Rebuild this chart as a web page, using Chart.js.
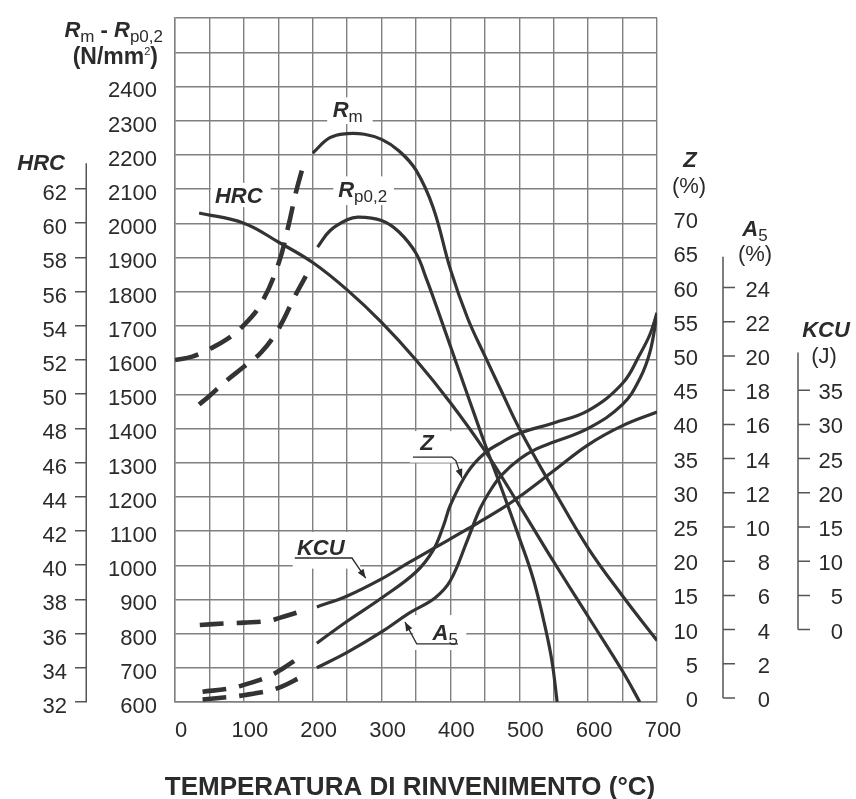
<!DOCTYPE html>
<html>
<head>
<meta charset="utf-8">
<script src="https://cdn.jsdelivr.net/npm/chart.js@4.4.1/dist/chart.umd.min.js"></script>
<style>
html,body{margin:0;padding:0;background:#ffffff;}
canvas{display:block;}
</style>
</head>
<body>
<canvas id="chart" width="856" height="799"></canvas>
<script>
// ---------------- data ----------------
const tempLabels = [0, 100, 200, 300, 400, 500, 600, 700];
const strengthLabels = [600, 700, 800, 900, 1000, 1100, 1200, 1300, 1400, 1500, 1600, 1700, 1800, 1900, 2000, 2100, 2200, 2300, 2400];
const hrcLabels = [32, 34, 36, 38, 40, 42, 44, 46, 48, 50, 52, 54, 56, 58, 60, 62];
const zLabels = [0, 5, 10, 15, 20, 25, 30, 35, 40, 45, 50, 55, 60, 65, 70];
const a5Labels = [0, 2, 4, 6, 8, 10, 12, 14, 16, 18, 20, 22, 24];
const kcuLabels = [0, 5, 10, 15, 20, 25, 30, 35];
const xTitle = 'TEMPERATURA DI RINVENIMENTO (°C)';

// Rm (N/mm2)
const rmDashedTemp = [0, 25, 50, 75, 100, 125, 150, 165, 175, 185];
const rmDashed     = [1600, 1610, 1632, 1660, 1702, 1765, 1880, 1995, 2085, 2160];
const rmTemp = [200, 225, 250, 275, 300, 325, 350, 375, 400, 425, 450, 475, 500, 550, 600, 650, 700];
const rm     = [2205, 2250, 2262, 2260, 2245, 2212, 2155, 2045, 1865, 1722, 1612, 1505, 1400, 1220, 1050, 910, 780];

// Rp0,2 (N/mm2)
const rpDashedTemp = [35, 50, 75, 100, 125, 150, 175, 190];
const rpDashed     = [1470, 1495, 1540, 1580, 1622, 1690, 1790, 1845];
const rpTemp = [207, 225, 250, 266, 300, 325, 350, 365, 380, 400, 425, 450, 475, 500, 520, 535, 547, 555];
const rp     = [1930, 1978, 2010, 2018, 2008, 1975, 1912, 1838, 1755, 1640, 1497, 1355, 1220, 1080, 962, 842, 725, 600];

// HRC
const hrcTemp = [35, 100, 150, 200, 250, 300, 350, 400, 450, 500, 550, 600, 650, 675];
const hrc     = [60.6, 60.0, 58.9, 57.7, 56.1, 54.2, 52.0, 49.5, 46.7, 43.5, 40.2, 37.0, 33.8, 32.0];

// Z (%)
const zDashedTemp = [40, 80, 100, 135, 155, 182];
const zDashed     = [1.5, 2.0, 2.5, 3.7, 4.8, 6.6];
const zTemp = [206, 250, 300, 350, 375, 390, 400, 425, 450, 475, 500, 550, 600, 650, 675, 690, 700];
const z     = [8.6, 11.8, 15.2, 19.0, 22.2, 25.8, 28.8, 33.6, 36.4, 38.0, 39.3, 40.8, 42.6, 46.6, 50.8, 53.8, 56.9];

// A5 (%)
const a5DashedTemp = [40, 80, 100, 135, 155, 185];
const a5Dashed     = [0.15, 0.3, 0.4, 0.65, 0.9, 1.5];
const a5Temp = [206, 250, 300, 340, 378, 400, 425, 443, 460, 475, 500, 525, 550, 600, 650, 675, 690, 700];
const a5     = [2.0, 2.9, 4.1, 5.2, 6.1, 7.1, 9.5, 11.3, 12.5, 13.3, 14.2, 14.8, 15.2, 16.0, 17.4, 18.9, 20.5, 22.7];

// KCU (J)
const kcuDashedTemp = [36, 75, 100, 135, 152, 185];
const kcuDashed     = [1.25, 1.5, 1.6, 1.85, 2.3, 3.3];
const kcuTemp = [206, 250, 300, 340, 378, 425, 475, 500, 550, 600, 650, 700];
const kcu     = [3.9, 5.5, 8.0, 10.4, 12.6, 15.3, 18.3, 20.0, 23.8, 27.6, 30.4, 32.4];

// ---------------- styling ----------------
const FONT = '"Liberation Sans", Arial, Helvetica, sans-serif';
const INK = '#2b2b2b';
const LINE = '#333333';
const GRID = '#808080';
const AXIS = '#555555';
const BI = 'italic bold 22px ' + FONT;
const B23 = 'bold 23px ' + FONT;
const R22 = '22px ' + FONT;
const SUB = '17px ' + FONT;
const tickFont = { family: FONT, size: 22 };

const xGrid = Array.from({ length: 15 }, (_, i) => i * 50);
const yGrid = Array.from({ length: 21 }, (_, i) => 600 + i * 100);

function pts(xs, ys) { return xs.map((x, i) => ({ x: x, y: ys[i] })); }
function fixedTicks(values) { return s => { s.ticks = values.map(v => ({ value: v })); }; }
function labelIn(list) { return v => (list.includes(v) ? String(v) : ''); }
function setWidth(w) { return s => { s.width = w; s.paddingTop = 0; s.paddingBottom = 0; }; }

const solid = { borderColor: LINE, borderWidth: 3.2, pointRadius: 0, tension: 0.4, fill: false };
const dashed = Object.assign({}, solid, { borderWidth: 4.6, borderDash: [24, 13], borderCapStyle: 'butt' });

// curve annotations (positions in data units: temperature, N/mm2)
const curveLabels = [
  { parts: [['R', BI], ['m', SUB, 5]], at: [229, 2310], box: [221, 2368, 287, 2290] },
  { parts: [['HRC', BI]], at: [58, 2059], box: [52, 2118, 139, 2047] },
  { parts: [['R', BI], ['p0,2', SUB, 5]], at: [237, 2077], box: [230, 2137, 318, 2053] },
  { parts: [['Z', BI]], at: [356, 1337], box: [341, 1392, 407, 1300],
    lead: [[345.6, 1316], [402, 1316], [408, 1305], [416.8, 1255]] },
  { parts: [['KCU', BI]], at: [177, 1030], box: [171, 1097, 269, 990],
    lead: [[174, 1021], [257, 1021], [277, 962]] },
  { parts: [['A', BI], ['5', SUB, 5]], at: [374, 781], box: [346, 854, 423, 752],
    lead: [[411, 770], [351, 770], [334, 834]] }
];

function richText(ctx, parts, x, y, align) {
  let w = 0;
  for (const p of parts) { ctx.font = p[1]; w += ctx.measureText(p[0]).width; }
  let cx = align === 'right' ? x - w : (align === 'center' ? x - w / 2 : x);
  ctx.textAlign = 'left';
  ctx.textBaseline = 'alphabetic';
  for (const p of parts) {
    ctx.font = p[1];
    ctx.fillText(p[0], cx, y + (p[2] || 0));
    cx += ctx.measureText(p[0]).width;
  }
}

function arrowHead(ctx, x0, y0, x1, y1) {
  const a = Math.atan2(y1 - y0, x1 - x0), L = 9, W = 3.5;
  ctx.beginPath();
  ctx.moveTo(x1, y1);
  ctx.lineTo(x1 - L * Math.cos(a) + W * Math.sin(a), y1 - L * Math.sin(a) - W * Math.cos(a));
  ctx.lineTo(x1 - L * Math.cos(a) - W * Math.sin(a), y1 - L * Math.sin(a) + W * Math.cos(a));
  ctx.closePath();
  ctx.fill();
}

const deco = {
  id: 'deco',
  beforeDatasetsDraw(chart) {
    const ctx = chart.ctx, sx = chart.scales.x, sy = chart.scales.y;
    const P = (t, n) => [sx.getPixelForValue(t), sy.getPixelForValue(n)];
    ctx.save();
    ctx.fillStyle = '#ffffff';
    for (const L of curveLabels) {
      const a = P(L.box[0], L.box[1]), b = P(L.box[2], L.box[3]);
      ctx.fillRect(a[0], a[1], b[0] - a[0], b[1] - a[1]);
    }
    ctx.fillStyle = INK;
    ctx.strokeStyle = INK;
    ctx.lineWidth = 1.3;
    for (const L of curveLabels) {
      const p = P(L.at[0], L.at[1]);
      richText(ctx, L.parts, p[0], p[1], 'left');
      if (L.lead) {
        const q = L.lead.map(v => P(v[0], v[1]));
        ctx.beginPath();
        ctx.moveTo(q[0][0], q[0][1]);
        for (let i = 1; i < q.length; i++) ctx.lineTo(q[i][0], q[i][1]);
        ctx.stroke();
        const n = q.length;
        arrowHead(ctx, q[n - 2][0], q[n - 2][1], q[n - 1][0], q[n - 1][1]);
      }
    }
    ctx.restore();
  },
  afterDraw(chart) {
    const ctx = chart.ctx, s = chart.scales;
    ctx.save();
    ctx.strokeStyle = AXIS;
    ctx.lineWidth = 1.5;
    // HRC axis line
    const xh = s.hrc.right - 0.75;
    ctx.beginPath();
    ctx.moveTo(xh, s.hrc.getPixelForValue(32));
    ctx.lineTo(xh, s.hrc.getPixelForValue(63.5));
    ctx.stroke();
    // A5 axis line and ticks
    const off = -4;
    const xa = s.a5.left + 25;
    ctx.beginPath();
    ctx.moveTo(xa, s.a5.getPixelForValue(0) + off);
    ctx.lineTo(xa, s.a5.getPixelForValue(25.8) + off);
    for (const v of a5Labels) {
      const yy = s.a5.getPixelForValue(v) + off;
      ctx.moveTo(xa, yy); ctx.lineTo(xa + 12, yy);
    }
    ctx.stroke();
    // KCU axis line and ticks
    const xk = s.kcu.left + 28;
    ctx.beginPath();
    ctx.moveTo(xk, s.kcu.getPixelForValue(0) + off);
    ctx.lineTo(xk, s.kcu.getPixelForValue(40.5) + off);
    for (const v of kcuLabels) {
      const yy = s.kcu.getPixelForValue(v) + off;
      ctx.moveTo(xk, yy); ctx.lineTo(xk + 12, yy);
    }
    ctx.stroke();

    // axis titles
    ctx.fillStyle = INK;
    richText(ctx, [['R', BI], ['m', SUB, 5], [' - ', 'bold 22px ' + FONT], ['R', BI], ['p0,2', SUB, 5]], s.y.right - 12, 37, 'right');
    richText(ctx, [['(N/mm', B23], ['2', '11px ' + FONT, -9], [')', B23]], s.y.right - 17, 64, 'right');
    richText(ctx, [['HRC', BI]], s.hrc.right - 22, 170, 'right');
    richText(ctx, [['Z', BI]], s.z.left + 33, 167, 'center');
    richText(ctx, [['(%)', R22]], s.z.left + 32, 193, 'center');
    richText(ctx, [['A', BI], ['5', SUB, 5]], s.a5.left + 57, 236, 'center');
    richText(ctx, [['(%)', R22]], s.a5.left + 57, 261, 'center');
    richText(ctx, [['KCU', BI]], s.kcu.left + 56, 337, 'center');
    richText(ctx, [['(J)', R22]], s.kcu.left + 54, 363, 'center');
    // x-axis title (drawn here so that it is not squeezed to the plot width)
    richText(ctx, [[xTitle, 'bold 26px ' + FONT]], (s.x.left + s.x.right) / 2 - 6, 795, 'center');
    ctx.restore();
  }
};

const gridOpts = { color: GRID, lineWidth: 1.4, drawTicks: false };
const rightTicks = { color: INK, font: tickFont, crossAlign: 'far', labelOffset: -1, padding: 0 };

new Chart(document.getElementById('chart'), {
  type: 'line',
  data: {
    datasets: [
      Object.assign({ label: 'Rm (tratteggio)', data: pts(rmDashedTemp, rmDashed), yAxisID: 'y' }, dashed),
      Object.assign({ label: 'Rm', data: pts(rmTemp, rm), yAxisID: 'y' }, solid),
      Object.assign({ label: 'Rp0,2 (tratteggio)', data: pts(rpDashedTemp, rpDashed), yAxisID: 'y' }, dashed),
      Object.assign({ label: 'Rp0,2', data: pts(rpTemp, rp), yAxisID: 'y' }, solid),
      Object.assign({ label: 'HRC', data: pts(hrcTemp, hrc), yAxisID: 'hrc' }, solid),
      Object.assign({ label: 'Z (tratteggio)', data: pts(zDashedTemp, zDashed), yAxisID: 'z' }, dashed),
      Object.assign({ label: 'Z', data: pts(zTemp, z), yAxisID: 'z' }, solid),
      Object.assign({ label: 'A5 (tratteggio)', data: pts(a5DashedTemp, a5Dashed), yAxisID: 'a5' }, dashed),
      Object.assign({ label: 'A5', data: pts(a5Temp, a5), yAxisID: 'a5' }, solid),
      Object.assign({ label: 'KCU (tratteggio)', data: pts(kcuDashedTemp, kcuDashed), yAxisID: 'kcu' }, dashed),
      Object.assign({ label: 'KCU', data: pts(kcuTemp, kcu), yAxisID: 'kcu' }, solid)
    ]
  },
  options: {
    responsive: false,
    animation: false,
    events: [],
    layout: { padding: { left: 0, right: 13, top: 18, bottom: 0 } },
    plugins: { legend: { display: false }, tooltip: { enabled: false } },
    scales: {
      x: {
        type: 'linear', position: 'bottom', min: 0, max: 700,
        afterBuildTicks: fixedTicks(xGrid),
        afterFit: s => { s.height = 97; s.paddingLeft = 0; s.paddingRight = 0; },
        grid: gridOpts,
        border: { color: GRID, width: 1.4 },
        ticks: { autoSkip: false, maxRotation: 0, padding: 16, labelOffset: 6, color: INK, font: tickFont, callback: labelIn(tempLabels) },
        title: { display: false, text: xTitle }
      },
      y: {
        type: 'linear', position: 'left', weight: 0, min: 600, max: 2600,
        afterBuildTicks: fixedTicks(yGrid),
        afterFit: setWidth(88),
        grid: gridOpts,
        border: { color: GRID, width: 1.4 },
        ticks: { padding: 18, labelOffset: 5, color: INK, font: tickFont, callback: labelIn(strengthLabels) }
      },
      hrc: {
        type: 'linear', position: 'left', weight: 1, min: 32, max: 72,
        afterBuildTicks: fixedTicks(hrcLabels),
        afterFit: setWidth(87),
        grid: { drawOnChartArea: false, drawTicks: true, tickLength: 12, color: AXIS, lineWidth: 1.5 },
        border: { display: false },
        ticks: { padding: 8, labelOffset: 5, color: INK, font: tickFont }
      },
      z: {
        type: 'linear', position: 'right', weight: 0, min: 0, max: 100,
        afterBuildTicks: fixedTicks(zLabels),
        afterFit: setWidth(41),
        grid: { display: false },
        border: { display: false },
        ticks: rightTicks
      },
      a5: {
        type: 'linear', position: 'right', weight: 1, min: 0, max: 40,
        afterBuildTicks: fixedTicks(a5Labels),
        afterFit: setWidth(72),
        grid: { display: false },
        border: { display: false },
        ticks: rightTicks
      },
      kcu: {
        type: 'linear', position: 'right', weight: 2, min: -10, max: 90,
        afterBuildTicks: fixedTicks(kcuLabels),
        afterFit: setWidth(73),
        grid: { display: false },
        border: { display: false },
        ticks: rightTicks
      }
    }
  },
  plugins: [deco]
});
</script>
</body>
</html>
